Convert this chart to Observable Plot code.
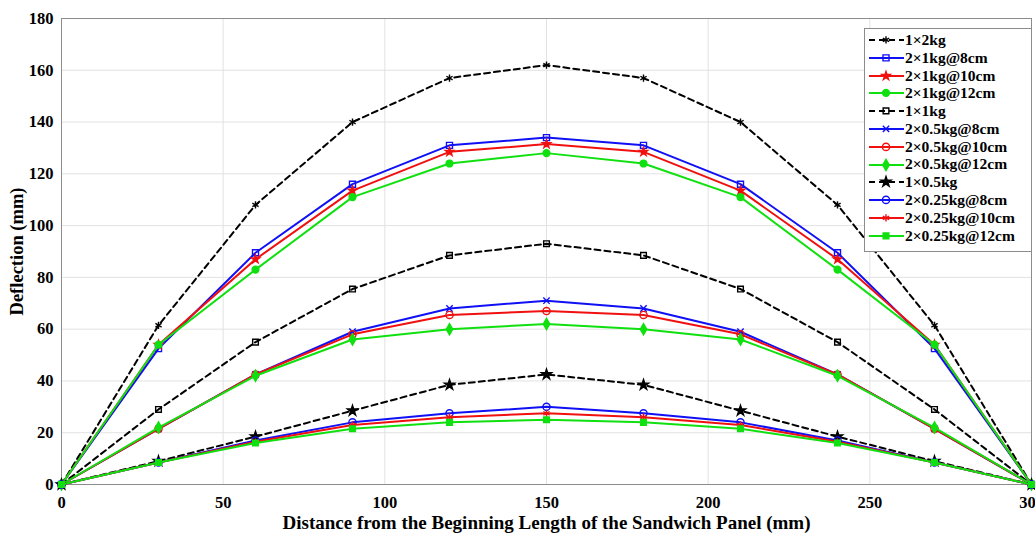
<!DOCTYPE html>
<html><head><meta charset="utf-8">
<script src="https://cdn.jsdelivr.net/npm/d3@7"></script>
<script src="https://cdn.jsdelivr.net/npm/@observablehq/plot@0.6"></script>
<style>
body{margin:0;background:#fff;}
#wrap{position:relative;width:1035px;height:534px;overflow:hidden;}
#legend{position:absolute;left:864px;top:28px;width:168px;height:224px;border:1px solid #8c8c8c;background:#fff;box-sizing:border-box;padding-top:2px;font-family:"Liberation Serif",serif;font-weight:bold;font-size:15.5px;color:#000;}
.row{height:17.8px;display:flex;align-items:center;white-space:nowrap;}
.row svg{flex:none;}
</style></head><body><div id="wrap"></div>
<script>
// ---- data ----
const distance = [0, 30, 60, 90, 120, 150, 180, 210, 240, 270, 300];
const seriesNames = ["1×2kg", "2×1kg@8cm", "2×1kg@10cm", "2×1kg@12cm",
  "1×1kg", "2×0.5kg@8cm", "2×0.5kg@10cm", "2×0.5kg@12cm",
  "1×0.5kg", "2×0.25kg@8cm", "2×0.25kg@10cm", "2×0.25kg@12cm"];
const one2kg      = [0, 61.5, 108, 140, 157, 162, 157, 140, 108, 61.5, 0];
const two1kg8     = [0, 52.5, 89.5, 116, 131, 134, 131, 116, 89.5, 52.5, 0];
const two1kg10    = [0, 54, 87, 113.5, 128.5, 131.5, 128.5, 113.5, 87, 54, 0];
const two1kg12    = [0, 54, 83, 111, 124, 128, 124, 111, 83, 54, 0];
const one1kg      = [0, 29, 55, 75.5, 88.5, 93, 88.5, 75.5, 55, 29, 0];
const two05kg8    = [0, 21.5, 42.5, 59, 68, 71, 68, 59, 42.5, 21.5, 0];
const two05kg10   = [0, 21.5, 42.5, 58, 65.5, 67, 65.5, 58, 42.5, 21.5, 0];
const two05kg12   = [0, 22, 42, 56, 60, 62, 60, 56, 42, 22, 0];
const one05kg     = [0, 9, 18.5, 28.5, 38.5, 42.5, 38.5, 28.5, 18.5, 9, 0];
const two025kg8   = [0, 8.5, 17, 24, 27.5, 30, 27.5, 24, 17, 8.5, 0];
const two025kg10  = [0, 8.5, 16.5, 23, 26, 27.5, 26, 23, 16.5, 8.5, 0];
const two025kg12  = [0, 8.5, 16, 21.5, 24, 25, 24, 21.5, 16, 8.5, 0];
const seriesValues = [one2kg, two1kg8, two1kg10, two1kg12, one1kg, two05kg8, two05kg10, two05kg12,
  one05kg, two025kg8, two025kg10, two025kg12];
const xTicks = [0, 50, 100, 150, 200, 250, 300];
const yTicks = [0, 20, 40, 60, 80, 100, 120, 140, 160, 180];

// ---- styles ----
const BLK = "#000000", BLU = "#1010f5", RED = "#f01010", GRN = "#10e010";
const styles = [
  {c: BLK, dash: "6,4", sym: "asterisk", fill: false, r: 3.4},
  {c: BLU, sym: "square", fill: false, r: 3.4},
  {c: RED, sym: "star", fill: true, r: 2.6},
  {c: GRN, sym: "circle", fill: true, r: 3.4},
  {c: BLK, dash: "6,4", sym: "square", fill: false, r: 3.2},
  {c: BLU, sym: "times", fill: false, r: 3.0},
  {c: RED, sym: "circle", fill: false, r: 3.6},
  {c: GRN, sym: "diamond", fill: true, r: 3.4},
  {c: BLK, dash: "6,4", sym: "star", fill: true, r: 3.2},
  {c: BLU, sym: "circle", fill: false, r: 3.6},
  {c: RED, sym: "asterisk", fill: false, r: 3.4},
  {c: GRN, sym: "square", fill: true, r: 3.2}
];

const tables = seriesValues.map((vals, i) => distance.map((d, j) => ({x: d, y: vals[j], s: seriesNames[i]})));

const marks = [
  Plot.gridX({ticks: xTicks, stroke: "#e2e2e2", strokeOpacity: 1}),
  Plot.gridY({ticks: yTicks, stroke: "#e2e2e2", strokeOpacity: 1}),
  Plot.frame({stroke: "#8c8c8c"})
];
tables.forEach((t, i) => {
  const st = styles[i];
  marks.push(Plot.line(t, {x: "x", y: "y", stroke: st.c, strokeWidth: 2, strokeDasharray: st.dash || null}));
  marks.push(Plot.dot(t, {x: "x", y: "y", symbol: () => st.sym, r: st.r, stroke: st.c, strokeWidth: 1.4, fill: st.fill ? st.c : "none"}));
});
marks.push(Plot.axisX({ticks: xTicks, tickSize: 0, tickPadding: 12, fontSize: 16.5, label: null}));
marks.push(Plot.axisX({ticks: [], tickSize: 0, fontSize: 19,
  label: "Distance from the Beginning Length of the Sandwich Panel (mm)", labelAnchor: "center", labelArrow: "none", labelOffset: 44}));
marks.push(Plot.axisY({ticks: yTicks, tickSize: 0, tickPadding: 8, fontSize: 16.5, label: null}));
marks.push(Plot.axisY({ticks: [], tickSize: 0, fontSize: 18.5,
  label: "Deflection (mm)", labelAnchor: "center", labelArrow: "none", labelOffset: 52}));

const chart = Plot.plot({
  width: 1035, height: 534,
  marginLeft: 61, marginRight: 4, marginTop: 18, marginBottom: 50,
  style: {fontFamily: "'Liberation Serif', serif", fontWeight: "bold", fontSize: "16.5px", color: "#000", background: "#fff"},
  x: {domain: [0, 300]},
  y: {domain: [0, 180]},
  symbol: {type: "identity"},
  marks
});
const wrap = document.getElementById("wrap");
wrap.appendChild(chart);

// ---- legend overlay ----
const symMap = {asterisk: d3.symbolAsterisk, square: d3.symbolSquare, star: d3.symbolStar, circle: d3.symbolCircle,
  times: d3.symbolTimes, diamond: d3.symbolDiamond, plus: d3.symbolPlus};
const legend = document.createElement("div");
legend.id = "legend";
seriesNames.forEach((name, i) => {
  const st = styles[i];
  const row = document.createElement("div");
  row.className = "row";
  const svg = d3.create("svg").attr("width", 40).attr("height", 17.8);
  svg.append("line").attr("x1", 4).attr("x2", 39).attr("y1", 8.9).attr("y2", 8.9)
    .attr("stroke", st.c).attr("stroke-width", 2).attr("stroke-dasharray", st.dash || null);
  svg.append("path").attr("transform", "translate(21,8.9)")
    .attr("d", d3.symbol(symMap[st.sym], st.r * st.r * Math.PI)())
    .attr("stroke", st.c).attr("stroke-width", 1.4).attr("fill", st.fill ? st.c : "none");
  row.appendChild(svg.node());
  const span = document.createElement("span");
  span.textContent = name;
  row.appendChild(span);
  legend.appendChild(row);
});
wrap.appendChild(legend);
</script></body></html>
